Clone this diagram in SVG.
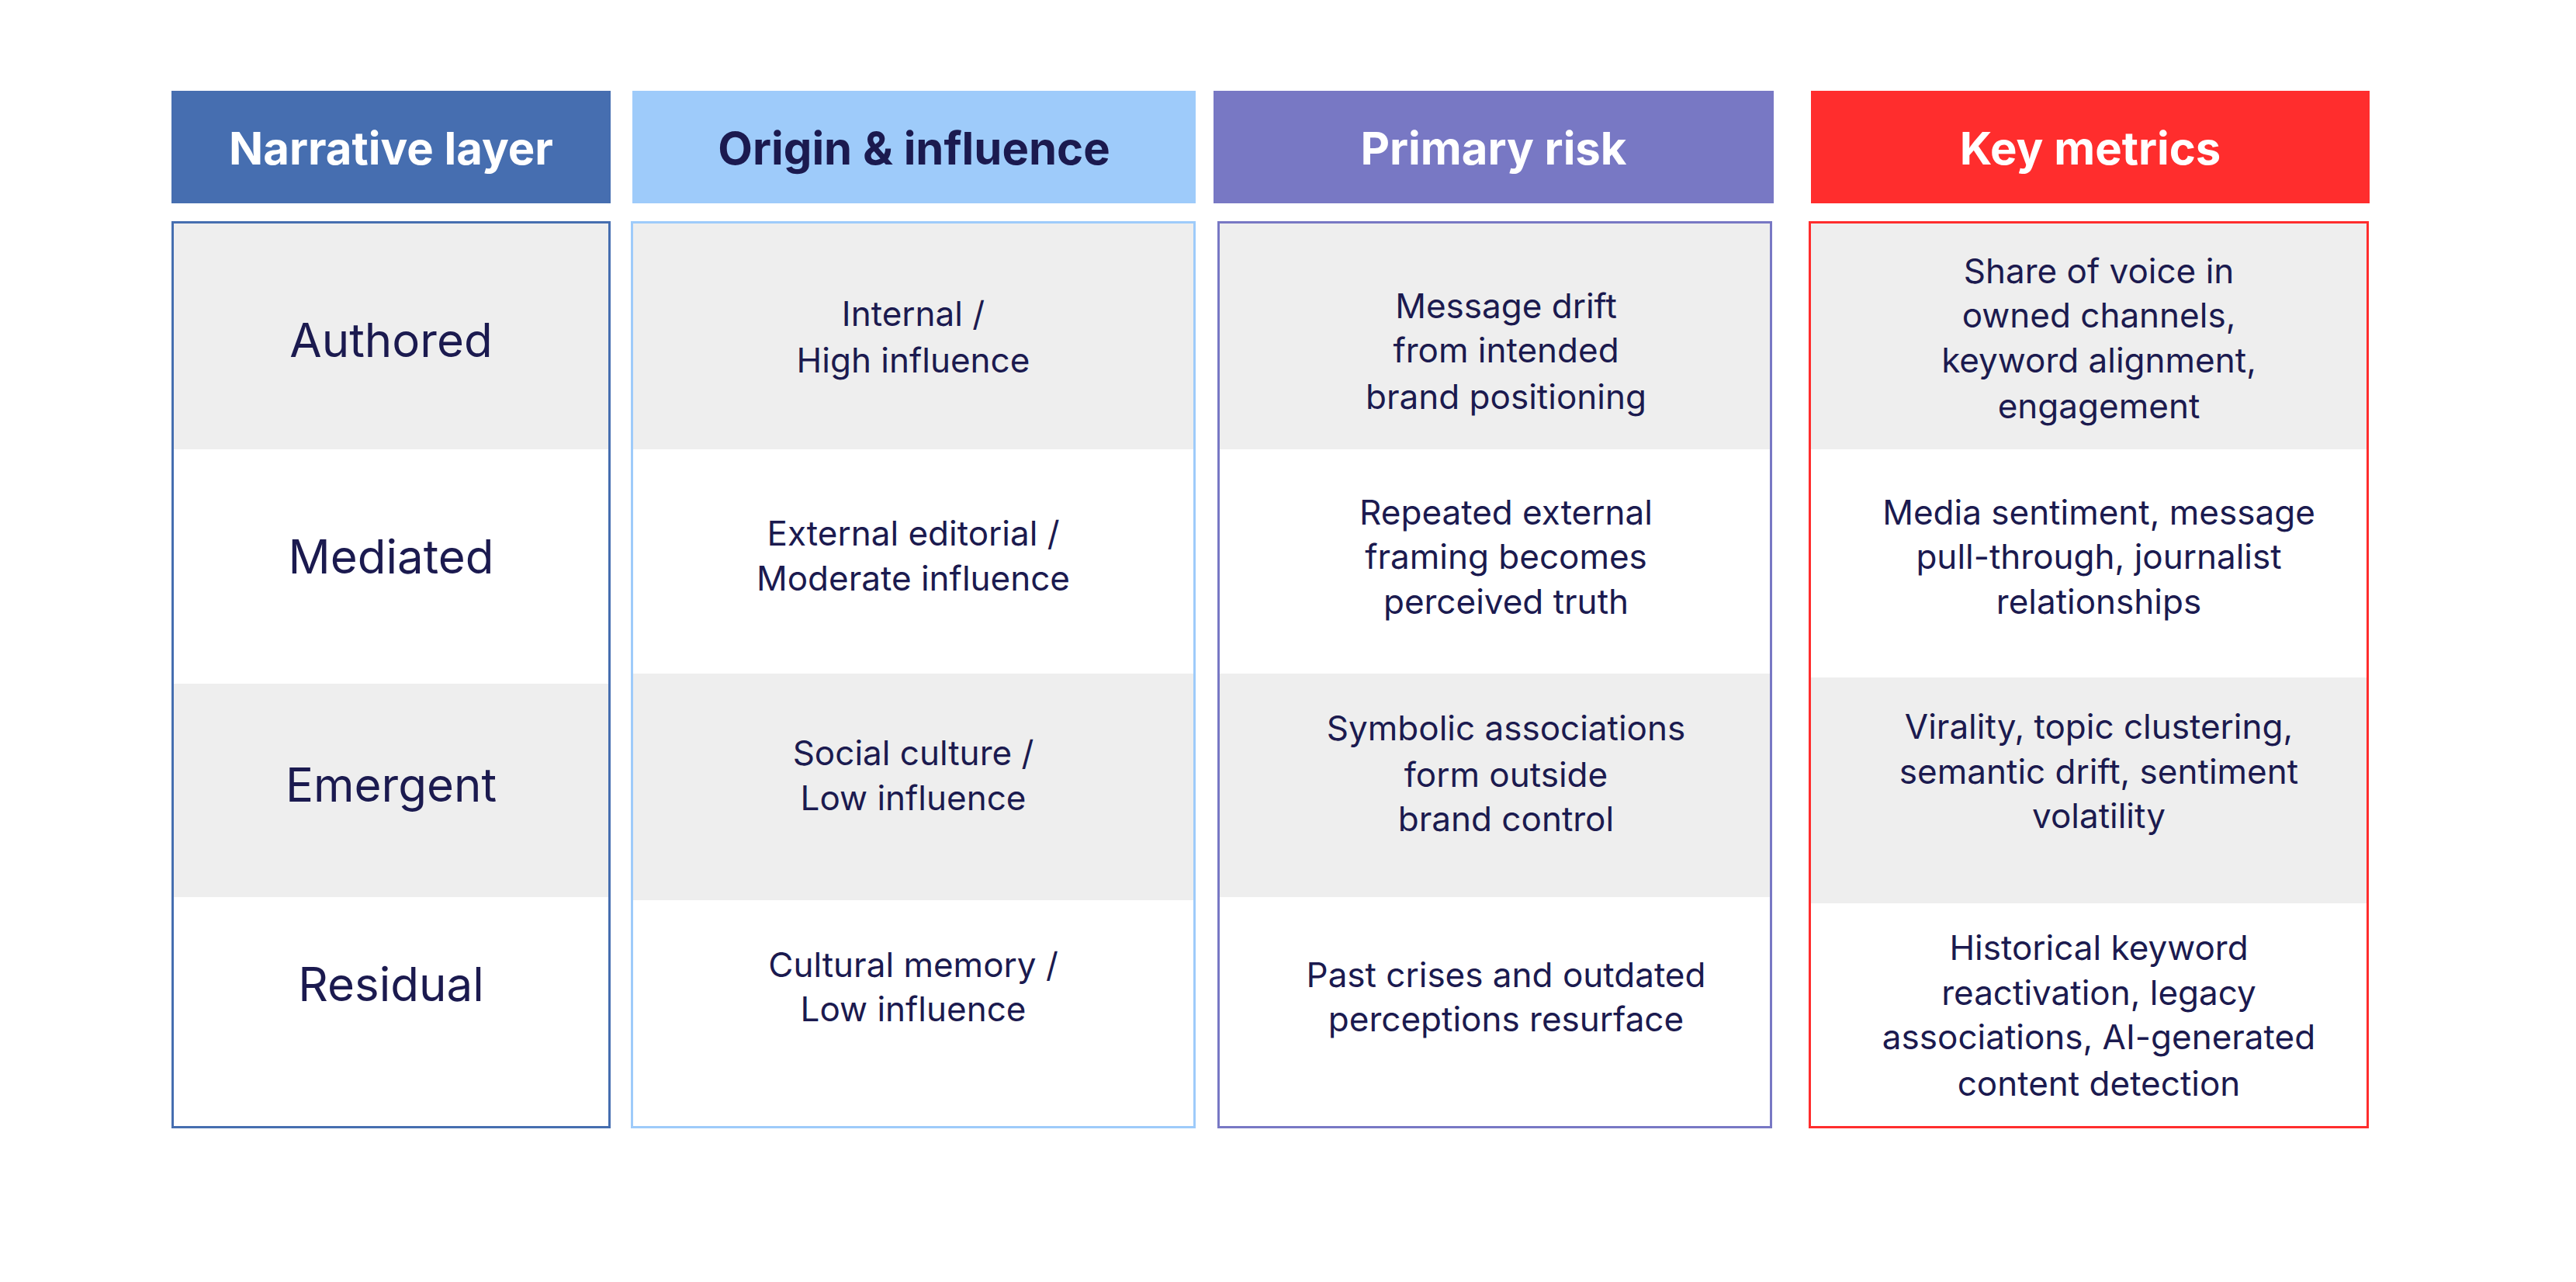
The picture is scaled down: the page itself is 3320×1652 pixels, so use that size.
<svg xmlns="http://www.w3.org/2000/svg" width="3320" height="1652" viewBox="0 0 3320 1652">
<style>
.h{font-family:Inter,"Liberation Sans",sans-serif;font-weight:700;font-size:58px;text-anchor:middle;dominant-baseline:central}
.t{font-family:Inter,"Liberation Sans",sans-serif;font-size:44px;fill:#1b1a4f;text-anchor:middle;dominant-baseline:central}
.l{font-family:Inter,"Liberation Sans",sans-serif;font-size:60px;fill:#1b1a4f;text-anchor:middle;dominant-baseline:central}
.g{fill:#eeeeee}
</style>
<rect width="3320" height="1652" fill="#fff"/>
<g id="col1">
<rect x="221" y="117" width="566" height="145" fill="#466eb0"/>
<text class="h" x="504" y="191" fill="#fff">Narrative layer</text>
<rect class="g" x="223" y="287" width="562" height="292"/>
<rect class="g" x="223" y="881" width="562" height="275"/>
<rect x="222.5" y="286.5" width="563" height="1166" fill="none" stroke="#466eb0" stroke-width="3"/>
<text class="l" x="504" y="438">Authored</text>
<text class="l" x="504" y="717">Mediated</text>
<text class="l" x="504" y="1011">Emergent</text>
<text class="l" x="504" y="1268">Residual</text>
</g>
<g id="col2">
<rect x="815" y="117" width="726" height="145" fill="#9ecbfa"/>
<text class="h" x="1178" y="191" fill="#1b1a4f">Origin &amp; influence</text>
<rect class="g" x="815" y="287" width="724" height="292"/>
<rect class="g" x="815" y="868" width="724" height="292"/>
<rect x="814.5" y="286.5" width="725" height="1166" fill="none" stroke="#9ecbfa" stroke-width="3"/>
<text class="t" x="1177" y="404">Internal /</text>
<text class="t" x="1177" y="464">High influence</text>
<text class="t" x="1177" y="687">External editorial /</text>
<text class="t" x="1177" y="745">Moderate influence</text>
<text class="t" x="1177" y="970">Social culture /</text>
<text class="t" x="1177" y="1028">Low influence</text>
<text class="t" x="1177" y="1243">Cultural memory /</text>
<text class="t" x="1177" y="1300">Low influence</text>
</g>
<g id="col3">
<rect x="1564" y="117" width="722" height="145" fill="#7878c4"/>
<text class="h" x="1925" y="191" fill="#fff">Primary risk</text>
<rect class="g" x="1570" y="287" width="712" height="292"/>
<rect class="g" x="1570" y="868" width="712" height="288"/>
<rect x="1570.5" y="286.5" width="712" height="1166" fill="none" stroke="#7878c4" stroke-width="3"/>
<text class="t" x="1941" y="394">Message drift</text>
<text class="t" x="1941" y="451">from intended</text>
<text class="t" x="1941" y="511">brand positioning</text>
<text class="t" x="1941" y="660">Repeated external</text>
<text class="t" x="1941" y="717">framing becomes</text>
<text class="t" x="1941" y="775">perceived truth</text>
<text class="t" x="1941" y="938">Symbolic associations</text>
<text class="t" x="1941" y="998">form outside</text>
<text class="t" x="1941" y="1055">brand control</text>
<text class="t" x="1941" y="1256">Past crises and outdated</text>
<text class="t" x="1941" y="1313">perceptions resurface</text>
</g>
<g id="col4">
<rect x="2334" y="117" width="720" height="145" fill="#ff2d2d"/>
<text class="h" x="2694" y="191" fill="#fff">Key metrics</text>
<rect class="g" x="2334" y="287" width="716" height="292"/>
<rect class="g" x="2334" y="873" width="716" height="291"/>
<rect x="2332.5" y="286.5" width="719" height="1166" fill="none" stroke="#ff2d2d" stroke-width="3"/>
<text class="t" x="2705" y="349">Share of voice in</text>
<text class="t" x="2705" y="406">owned channels,</text>
<text class="t" x="2705" y="464">keyword alignment,</text>
<text class="t" x="2705" y="523">engagement</text>
<text class="t" x="2705" y="660">Media sentiment, message</text>
<text class="t" x="2705" y="717">pull-through, journalist</text>
<text class="t" x="2705" y="775">relationships</text>
<text class="t" x="2705" y="936">Virality, topic clustering,</text>
<text class="t" x="2705" y="994">semantic drift, sentiment</text>
<text class="t" x="2705" y="1051">volatility</text>
<text class="t" x="2705" y="1221">Historical keyword</text>
<text class="t" x="2705" y="1279">reactivation, legacy</text>
<text class="t" x="2705" y="1336">associations, AI-generated</text>
<text class="t" x="2705" y="1396">content detection</text>
</g>
<g id="connectors"/>
</svg>
